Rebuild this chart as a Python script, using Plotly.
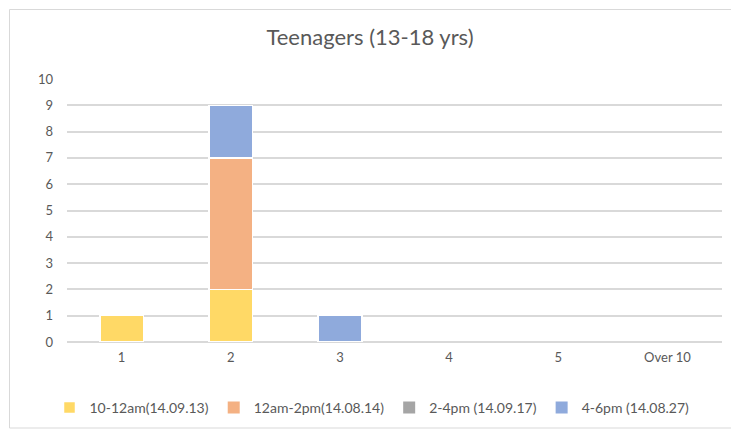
import plotly.graph_objects as go

categories = ["1", "2", "3", "4", "5", "Over 10"]
series_names = ["10-12am(14.09.13)", "12am-2pm(14.08.14)", "2-4pm (14.09.17)", "4-6pm (14.08.27)"]
s_10_12 = [1, 2, 0, 0, 0, 0]
s_12_2 = [0, 5, 0, 0, 0, 0]
s_2_4 = [0, 0, 0, 0, 0, 0]
s_4_6 = [0, 2, 1, 0, 0, 0]
colors = ["#FFD966", "#F4B183", "#A5A5A5", "#8FAADC"]

FONT = "Lato, Carlito, Calibri, sans-serif"
fig = go.Figure()
for name, vals, col in zip(series_names, [s_10_12, s_12_2, s_2_4, s_4_6], colors):
    fig.add_trace(go.Bar(x=categories, y=vals, name=name,
                         marker=dict(color=col,
                                     line=dict(color="white",
                                               width=[1.5 if v else 0 for v in vals]))))

fig.update_layout(
    barmode="stack",
    bargap=0.6,
    width=739, height=433,
    margin=dict(l=59, r=25, t=71, b=99),
    paper_bgcolor="white", plot_bgcolor="white",
    font=dict(family=FONT, color="#595959", size=13),
    title=dict(text="Teenagers (13-18 yrs)", x=(370 - 8) / 739, xanchor="center", y=1 - 29 / 433, yanchor="middle",
               font=dict(size=22, color="#595959", family=FONT)),
    xaxis=dict(showgrid=False, showline=False, ticks="", tickfont=dict(size=13),
               type="category", ticklabelstandoff=6),
    yaxis=dict(range=[0, 10], dtick=1, showgrid=True, gridcolor="#D9D9D9", gridwidth=1.5,
               zeroline=True, zerolinecolor="#D9D9D9", zerolinewidth=1.5,
               showline=False, ticks="", tickfont=dict(size=13), ticklabelstandoff=13),
    legend=dict(orientation="h", x=(372 - 67) / 655, xanchor="center", y=(342 - 408) / 263, yanchor="middle",
                font=dict(size=14, color="#595959"), itemwidth=30, tracegroupgap=0, traceorder="normal"),
    shapes=[dict(type="rect", xref="paper", yref="paper",
                 x0=(9.5 - 67) / 655, x1=(732 - 67) / 655, y0=(342 - 428) / 263, y1=(342 - 9.5) / 263,
                 line=dict(color="#D9D9D9", width=1), fillcolor="rgba(0,0,0,0)", layer="below")],
)
fig.write_html("out.html")
